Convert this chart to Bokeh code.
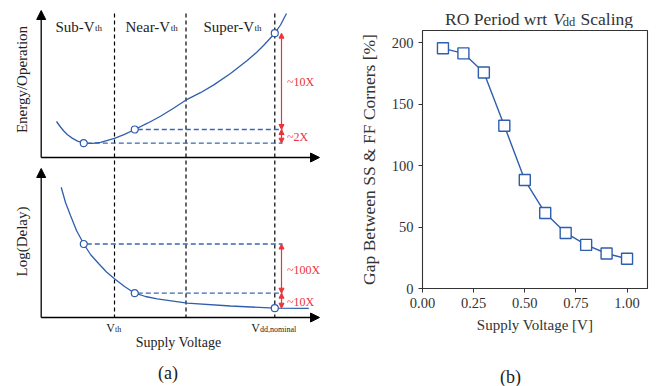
import numpy as np
from bokeh.plotting import figure
from bokeh.layouts import row, column
from bokeh.models import Range1d, Arrow, NormalHead, FixedTicker, NumeralTickFormatter
from bokeh.core.properties import value
from bokeh.embed import file_html
from bokeh.resources import INLINE

# ---------------- data: panel (a) schematic (sketch units, y grows downward) ----------------
energy_x = [56.0, 60.0, 63.3, 67.0, 71.7, 77.0, 83.3, 92.0, 100.0, 114.0, 124.0, 134.3, 147.0, 160.0, 173.0,
            186.7, 200.0, 213.3, 230.0, 246.7, 256.0, 263.3, 274.3, 280.0, 286.0]
energy_y = [121.0, 126.5, 130.5, 134.2, 137.6, 140.6, 142.6, 142.9, 141.8, 137.8, 133.9, 129.0, 122.7, 115.7, 107.7,
            98.8, 92.2, 84.4, 73.0, 60.0, 52.0, 44.8, 32.7, 24.5, 13.0]
energy_pts_x = [83.3, 134.3, 274.3]
energy_pts_y = [142.7, 129.0, 32.7]

delay_x = [60.7, 65.0, 70.0, 76.0, 83.3, 90.0, 98.3, 106.0, 114.0, 124.0, 134.3, 145.0, 156.7, 186.7, 230.0, 274.3, 308.3]
delay_y = [186.7, 202.0, 215.0, 230.0, 243.5, 254.0, 263.3, 271.5, 278.3, 286.0, 292.7, 296.0, 298.3, 302.7, 305.5, 307.7, 307.9]
delay_pts_x = [83.3, 134.3, 274.3]
delay_pts_y = [243.5, 292.7, 307.7]

region_x = [114.0, 185.5, 274.3]          # Vth, boundary, Vdd,nominal
region_names = ["Sub-V", "Near-V", "Super-V"]
ratio_labels_top = ["~10X", "~2X"]
ratio_labels_bot = ["~100X", "~10X"]

# ---------------- data: panel (b) ----------------
vdd = [0.1, 0.2, 0.3, 0.4, 0.5, 0.6, 0.7, 0.8, 0.9, 1.0]
gap = [195.5, 191.4, 175.8, 132.5, 88.3, 61.4, 45.2, 35.5, 28.5, 24.2]
x_ticks = [0.0, 0.25, 0.5, 0.75, 1.0]
y_ticks = [0, 50, 100, 150, 200]

SERIF = value("Liberation Serif")
BLUE = "#2f5eae"
DBLUE = "#3b68b5"
RED = "#ee3338"
INK = "#222222"


def canvas(w, h):
    f = figure(width=w, height=h, x_range=Range1d(0, w), y_range=Range1d(h, 0),
               output_backend="svg", toolbar_location=None, min_border=0,
               x_axis_type=None, y_axis_type=None, outline_line_color=None)
    f.frame_align = False
    f.xgrid.visible = False
    f.ygrid.visible = False
    return f


# ================= panel (a) =================
pa = canvas(340, 386)

ax_x0, top_base, bot_base, ax_xend = 40.7, 157.0, 317.0, 319.0
for (xs, ys, xe, ye) in [(ax_x0, top_base, ax_x0, 10.0), (ax_x0, top_base, ax_xend, top_base),
                         (ax_x0, bot_base, ax_x0, 168.0), (ax_x0, bot_base, ax_xend, bot_base)]:
    pa.add_layout(Arrow(end=NormalHead(size=9, fill_color="black", line_color="black", line_width=1),
                        x_start=xs, y_start=ys, x_end=xe, y_end=ye,
                        line_color="black", line_width=1.3))

for xv in region_x:
    pa.line([xv, xv], [13, bot_base], line_color="black", line_dash="4 3", line_width=1.2)

for (px, py) in zip(energy_pts_x[:2], energy_pts_y[:2]):
    pa.line([px + 3, 282], [py, py], line_color=DBLUE, line_dash="5 3", line_width=1.3)
for (px, py) in zip(delay_pts_x[:2], delay_pts_y[:2]):
    pa.line([px + 3, 282], [py, py], line_color=DBLUE, line_dash="5 3", line_width=1.3)

pa.line(energy_x, energy_y, line_color=BLUE, line_width=1.3)
pa.line(delay_x, delay_y, line_color=BLUE, line_width=1.3)
pa.scatter(energy_pts_x, energy_pts_y, size=7, marker="circle", fill_color="white", line_color=BLUE, line_width=1.2)
pa.scatter(delay_pts_x, delay_pts_y, size=7, marker="circle", fill_color="white", line_color=BLUE, line_width=1.2)

arr_x = 281.0
seg_top = [(energy_pts_y[2], energy_pts_y[1]), (energy_pts_y[1], energy_pts_y[0])]
seg_bot = [(delay_pts_y[0], delay_pts_y[1]), (delay_pts_y[1], delay_pts_y[2])]
for (a, b) in seg_top + seg_bot:
    pa.add_layout(Arrow(start=NormalHead(size=5, fill_color=RED, line_color=RED, line_width=1),
                        end=NormalHead(size=5, fill_color=RED, line_color=RED, line_width=1),
                        x_start=arr_x, y_start=a, x_end=arr_x, y_end=b,
                        line_color=RED, line_width=1.2))


def mid(a, b):
    return (a + b) / 2.0


lab_x = 286.5
pa.text([lab_x, lab_x], [mid(*seg_top[0]) + 1, mid(*seg_top[1]) + 1], text=ratio_labels_top,
        text_font=SERIF, text_font_size="12px", text_color=RED, text_baseline="middle", text_align="left")
pa.text([lab_x, lab_x], [mid(*seg_bot[0]) + 1, mid(*seg_bot[1]) + 1], text=ratio_labels_bot,
        text_font=SERIF, text_font_size="12px", text_color=RED, text_baseline="middle", text_align="left")

name_x = [55.0, 125.0, 203.0]
name_w = [39.2, 45.0, 50.8]
pa.text(name_x, [26, 26, 26], text=region_names, text_font=SERIF, text_font_size="15px",
        text_color=INK, text_baseline="alphabetic", text_align="left")
pa.text([x + w + 0.3 for x, w in zip(name_x, name_w)], [27, 27, 27], text=["th"] * 3,
        text_font=SERIF, text_font_size="9px", text_color=INK,
        text_baseline="alphabetic", text_align="left")

pa.text([21], [79], text=["Energy/Operation"], angle=np.pi / 2, text_font=SERIF,
        text_font_size="15px", text_color=INK, text_align="center", text_baseline="middle")
pa.text([21], [241], text=["Log(Delay)"], angle=np.pi / 2, text_font=SERIF,
        text_font_size="15px", text_color=INK, text_align="center", text_baseline="middle")

pa.text([region_x[0] - 8.2], [327], text=["V"], text_font=SERIF, text_font_size="12px",
        text_color=INK, text_align="left", text_baseline="alphabetic")
pa.text([region_x[0] + 0.6], [328.5], text=["th"], text_font=SERIF, text_font_size="8px",
        text_color=INK, text_align="left", text_baseline="alphabetic")
pa.text([region_x[2] - 23.6], [327], text=["V"], text_font=SERIF, text_font_size="12px",
        text_color=INK, text_align="left", text_baseline="alphabetic")
pa.text([region_x[2] - 14.8], [328.5], text=["dd,nominal"], text_font=SERIF, text_font_size="8px",
        text_color=INK, text_align="left", text_baseline="alphabetic")

pa.text([178], [342], text=["Supply Voltage"], text_font=SERIF, text_font_size="14px",
        text_color=INK, text_align="center", text_baseline="alphabetic")
pa.text([167.5], [372], text=["(a)"], text_font=SERIF, text_font_size="18px",
        text_color=INK, text_align="center", text_baseline="alphabetic")

# ================= panel (b) =================
# title strip
pt = canvas(322, 28)
t_v = 212.7   # left of the italic V (strip pixels)
pt.text([t_v - 6], [18.5], text=["RO Period wrt"], text_font=SERIF, text_font_size="17.5px",
        text_color="#333333", text_align="right", text_baseline="alphabetic")
pt.text([t_v], [18.5], text=["V"], text_font=SERIF, text_font_size="17.5px", text_font_style="italic",
        text_color="#333333", text_align="left", text_baseline="alphabetic")
pt.text([t_v + 9.5], [21], text=["dd"], text_font=SERIF, text_font_size="12.5px",
        text_color="#333333", text_align="left", text_baseline="alphabetic")
pt.text([t_v + 27.3], [18.5], text=["Scaling"], text_font=SERIF, text_font_size="17.5px",
        text_color="#333333", text_align="left", text_baseline="alphabetic")

pb = figure(width=322, height=307, x_range=Range1d(0, 1.1), y_range=Range1d(0, 210),
            output_backend="svg", toolbar_location=None,
            min_border_left=82, min_border_right=15, min_border_top=2, min_border_bottom=40)
pb.frame_align = False
pb.xgrid.visible = False
pb.ygrid.visible = False
pb.outline_line_color = "#333333"
pb.outline_line_width = 1.1

for ax in (pb.xaxis[0], pb.yaxis[0]):
    ax.axis_line_color = "#333333"
    ax.major_tick_line_color = "#333333"
    ax.major_tick_out = 4
    ax.major_tick_in = 0
    ax.minor_tick_line_color = None
    ax.major_label_text_font = "Liberation Serif"
    ax.major_label_text_font_size = "14.5px"
    ax.major_label_text_color = "#333333"
    ax.axis_label_text_font = "Liberation Serif"
    ax.axis_label_text_font_size = "15px"
    ax.axis_label_text_font_style = "normal"
    ax.axis_label_text_color = "#333333"

pb.xaxis.ticker = FixedTicker(ticks=x_ticks)
pb.xaxis.formatter = NumeralTickFormatter(format="0.00")
pb.yaxis.ticker = FixedTicker(ticks=y_ticks)
pb.xaxis.axis_label = "Supply Voltage [V]"
pb.yaxis.axis_label = "Gap Between SS & FF Corners [%]"
pb.yaxis.axis_label_text_font_size = "17.5px"
pb.yaxis.axis_label_standoff = 10
pb.xaxis.axis_label_standoff = 6

pb.line(vdd, gap, line_color=BLUE, line_width=1.4)
pb.scatter(vdd, gap, marker="square", size=11, fill_color="white", line_color=BLUE, line_width=1.4)

# caption strip
pc = canvas(322, 51)
pc.text([170], [41], text=["(b)"], text_font=SERIF, text_font_size="18px",
        text_color=INK, text_align="center", text_baseline="alphabetic")

layout = row(pa, column(pt, pb, pc, spacing=0), spacing=0)
open("out.html", "w").write(file_html(layout, INLINE))
